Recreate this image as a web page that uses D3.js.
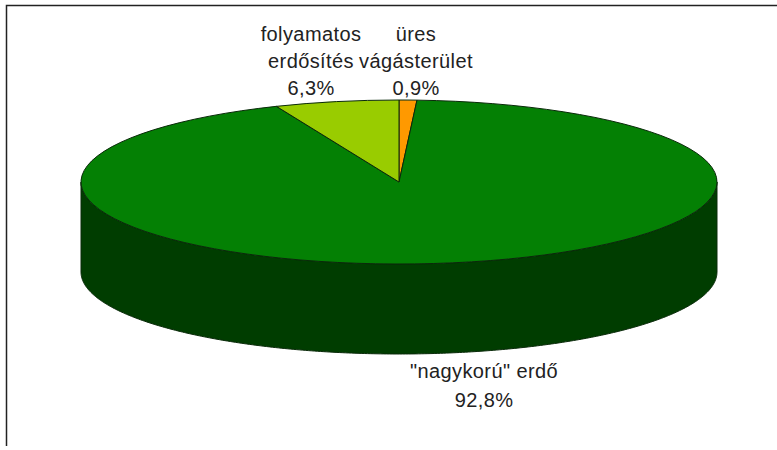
<!DOCTYPE html>
<html><head><meta charset="utf-8">
<script src="https://cdn.jsdelivr.net/npm/d3@7"></script>
<style>html,body{margin:0;padding:0;background:#fff}svg{display:block}text{font-family:"Liberation Sans",Arial,sans-serif;font-size:20px;fill:#222;letter-spacing:.4px}</style>
</head><body><script>
const categories=['üres vágásterület','"nagykorú" erdő','folyamatos erdősítés'];
const seriesValues=[0.9,92.8,6.3];
const topColors=['#ff9900','#048004','#99cc00'];
const sideColor='#003d00';
const labelLines=[['üres','vágásterület','0,9%'],['"nagykorú" erdő','92,8%'],['folyamatos','erdősítés','6,3%']];
const W=777,H=450,cx=399,cy=182,rx=318,ry=82,depth=90;
const svg=d3.select('body').append('svg').attr('width',W).attr('height',H);
svg.append('path').attr('d','M6.5,446V5.5H777').attr('fill','none').attr('stroke','#222').attr('stroke-width',1.5);
const pie=d3.pie().sort(null).value(d=>d);
const arcs=pie(seriesValues);
const arcGen=d3.arc().innerRadius(0).outerRadius(100);
const xS=a=>Math.sin(a)*rx,yS=a=>-Math.cos(a)*ry;
const sidePts=d3.range(Math.PI/2,3*Math.PI/2+0.001,0.01);
const area=d3.area().x(d=>cx+xS(d)).y0(d=>cy+yS(d)).y1(d=>cy+yS(d)+depth);
svg.append('path').datum(sidePts).attr('d',area).attr('fill',sideColor).attr('stroke','#0a2a0a').attr('stroke-width',1);
const g=svg.append('g').attr('transform',`translate(${cx},${cy}) scale(${rx/100},${ry/100})`);
g.selectAll('path').data(arcs).join('path').attr('d',arcGen).attr('fill',(d,i)=>topColors[i])
  .attr('stroke','#0a2a0a').attr('stroke-width',1).attr('vector-effect','non-scaling-stroke').attr('stroke-linejoin','round');
const ly=[[41,68,95],[378,407],[41,68,95]];
const lx=[416,484,311];
labelLines.forEach((ls,i)=>ls.forEach((t,j)=>svg.append('text').attr('x',lx[i]).attr('y',ly[i][j]).attr('text-anchor','middle').text(t)));
</script></body></html>
